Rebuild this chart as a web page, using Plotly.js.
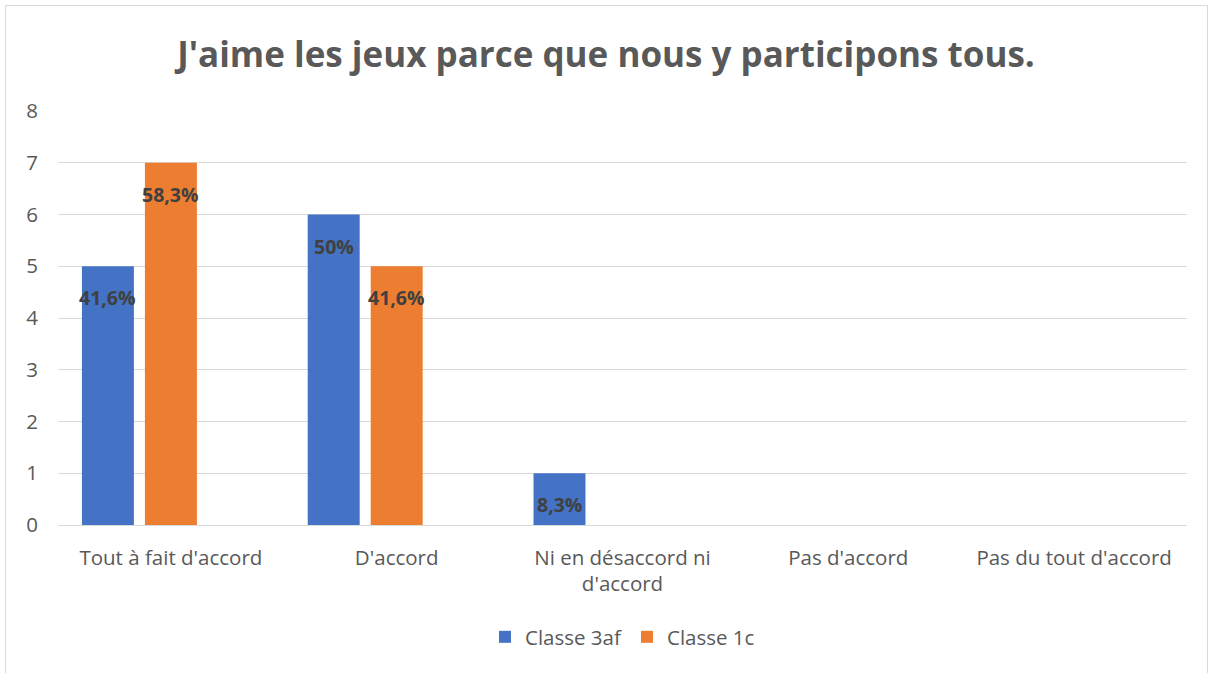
<!DOCTYPE html>
<html><head><meta charset="utf-8">
<script src="https://cdn.plot.ly/plotly-3.0.1.min.js"></script>
<style>
html,body{margin:0;padding:0;background:#fff;}
#wrap{position:relative;width:1212px;height:673px;overflow:hidden;}
#chart{position:absolute;left:0;top:0;width:1212px;height:673px;}
#frame{position:absolute;left:5px;top:5px;width:1201px;height:700px;border:1px solid #D9D9D9;pointer-events:none;}
</style></head>
<body><div id="wrap"><div id="chart"></div><div id="frame"></div></div>
<script>
const categories = ["Tout à fait d'accord", "D'accord", "Ni en désaccord ni<br>d'accord", "Pas d'accord", "Pas du tout d'accord"];
const series3af = [5, 6, 1, 0, 0];
const series1c = [7, 5, 0, 0, 0];
const labels3af = ["41,6%", "50%", "8,3%", "", ""];
const labels1c = ["58,3%", "41,6%", "", "", ""];
const emptySeries = [0, 0, 0, 0, 0];
const yTicks = [0, 1, 2, 3, 4, 5, 6, 7, 8];

const W = 1212, H = 673;
const margin = {l: 58, r: 25, t: 111, b: 148};
const bargap = 0.163;
const font = "Open Sans, sans-serif";

const traces = [
  {type: 'bar', name: 'Classe 3af', x: categories, y: series3af,
   marker: {color: '#4472C4'}, hoverinfo: 'skip'},
  {type: 'bar', name: 'Classe 1c', x: categories, y: series1c,
   marker: {color: '#ED7D31'}, hoverinfo: 'skip'},
  {type: 'bar', name: '', x: categories, y: emptySeries, showlegend: false,
   marker: {color: 'rgba(0,0,0,0)'}, hoverinfo: 'skip'}
];

const catPx = (W - margin.l - margin.r) / categories.length;
const slotPx = (1 - bargap) * catPx / 3;
const annotations = [];
[[series3af, labels3af, -1], [series1c, labels1c, 0]].forEach(([vals, labs, k]) => {
  vals.forEach((v, j) => {
    if (!labs[j]) return;
    annotations.push({x: categories[j], y: v, xref: 'x', yref: 'y', text: labs[j],
      showarrow: false, xshift: k * slotPx, yanchor: 'top', yshift: -16,
      font: {family: font, size: 19.5, color: '#404040', weight: 'bold'}});
  });
});

const layout = {
  width: W, height: H, margin: margin,
  paper_bgcolor: '#fff', plot_bgcolor: '#fff',
  barmode: 'group', bargap: bargap, bargroupgap: 0.175,
  title: {text: "<b>J'aime les jeux parce que nous y participons tous.</b>",
    font: {family: font, size: 35, color: '#595959'},
    x: 0.5, xanchor: 'center', y: 1 - 55 / H, yanchor: 'middle', yref: 'container'},
  xaxis: {type: 'category', showgrid: false, showline: true, linecolor: '#D9D9D9', linewidth: 1,
    ticks: '', tickfont: {family: font, size: 20.5, color: '#595959'}, ticklabelstandoff: 14},
  yaxis: {range: [0, 8], tickvals: yTicks, showgrid: true, gridcolor: '#D9D9D9', gridwidth: 1,
    zeroline: false, showline: false, ticks: '', ticklabelstandoff: 19,
    tickfont: {family: font, size: 20.5, color: '#595959'}},
  legend: {orientation: 'h', x: 0.5, xanchor: 'center', y: (525 - 637) / 414, yanchor: 'middle',
    font: {family: font, size: 20.5, color: '#595959'}, itemwidth: 30},
  annotations: annotations,
  showlegend: true
};
Plotly.newPlot('chart', traces, layout, {displayModeBar: false, staticPlot: true});
</script></body></html>
